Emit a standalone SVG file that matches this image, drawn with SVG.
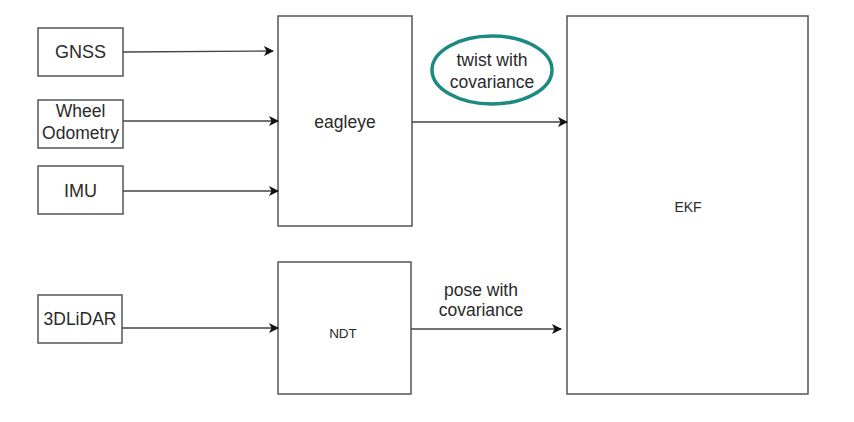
<svg xmlns="http://www.w3.org/2000/svg" width="854" height="422" viewBox="0 0 854 422">
<defs>
<style>
.box{fill:#fff;stroke:#555;stroke-width:1.5}
.t{font-family:"Liberation Sans",Arial,sans-serif;fill:#2a2a2a;text-anchor:middle}
.edge{stroke:#444;stroke-width:1.3;fill:none;marker-end:url(#ah)}
</style>
<marker id="ah" viewBox="0 0 10 10" refX="9" refY="5" markerWidth="10" markerHeight="10" markerUnits="userSpaceOnUse" orient="auto">
<path d="M0,0 L10,5 L0,10 L2.5,5 Z" fill="#111"/>
</marker>
</defs>
<rect width="854" height="422" fill="#fff"/>
<g id="gnss"><rect class="box" x="38" y="28" width="85" height="48"/><text class="t" x="80.5" y="58" font-size="18">GNSS</text></g>
<g id="wheel"><rect class="box" x="38" y="100" width="85" height="48"/><text class="t" x="80.5" y="117" font-size="17.5">Wheel</text><text class="t" x="80.5" y="139" font-size="17.5">Odometry</text></g>
<g id="imu"><rect class="box" x="38" y="166" width="85" height="48"/><text class="t" x="80.5" y="197" font-size="18">IMU</text></g>
<g id="lidar"><rect class="box" x="38" y="295" width="84" height="48"/><text class="t" x="80" y="325" font-size="17.5">3DLiDAR</text></g>
<g id="eagleye"><rect class="box" x="278" y="16" width="134" height="210"/><text class="t" x="345" y="128" font-size="17.5">eagleye</text></g>
<g id="ndt"><rect class="box" x="278" y="262" width="133" height="132"/><text class="t" x="343" y="338" font-size="13.5">NDT</text></g>
<g id="ekf"><rect class="box" x="567" y="16" width="241" height="378"/><text class="t" x="688" y="212" font-size="14">EKF</text></g>
<g id="connectors">
<path class="edge" d="M123,52 L273,51"/>
<path class="edge" d="M123,121 L278,121"/>
<path class="edge" d="M123,191 L278,191"/>
<path class="edge" d="M122,328 L278,328"/>
<path class="edge" d="M412,122 L567,122"/>
<path class="edge" d="M411,329 L561,329"/>
</g>
<g id="twist-label">
<ellipse cx="492" cy="70" rx="60" ry="34" fill="none" stroke="#1b8a80" stroke-width="3.5"/>
<text class="t" x="492" y="66" font-size="17.5">twist with</text>
<text class="t" x="492" y="88" font-size="17.5">covariance</text>
</g>
<g id="pose-label">
<text class="t" x="481" y="296" font-size="17.5">pose with</text>
<text class="t" x="481" y="316" font-size="17.5">covariance</text>
</g>
</svg>
